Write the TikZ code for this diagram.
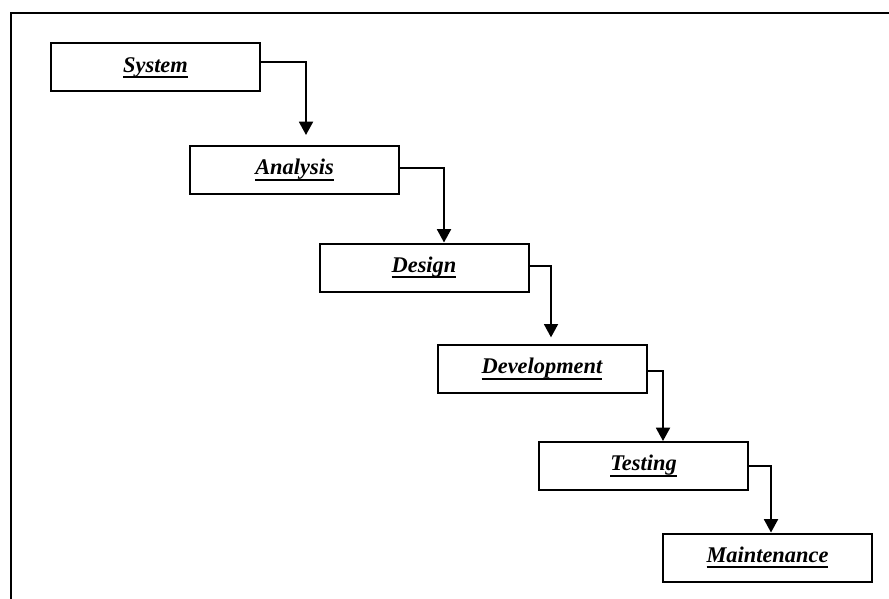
\documentclass[tikz,border=0pt]{standalone}
\usepackage{fontspec}
\setmainfont{Liberation Serif}
\usetikzlibrary{arrows.meta,calc}
\newcommand\myul[1]{\setbox0\hbox{#1}\rlap{\rule[-4.2pt]{\wd0}{1.5pt}}\box0}
\tikzset{
  stage/.style={draw, line width=1.5pt, minimum width=156.75pt, minimum height=36pt, inner sep=0pt,
    font=\fontsize{16.8}{20}\selectfont\bfseries\itshape},
  conn/.style={line width=1.4pt, -{Triangle[width=10.5pt,length=10pt]}},
}
\begin{document}
\begin{tikzpicture}[x=0.75pt,y=-0.75pt]
\useasboundingbox (0,0) rectangle (889,599);
\draw[line width=1.6pt] (11,605) -- (11,13) -- (895,13);
\node[stage] (System) at (155.5,67.5) {\myul{System}};
\node[stage] (Analysis) at (294.5,170) {\myul{Analysis}};
\node[stage] (Design) at (424,267.5) {\myul{Design}};
\node[stage] (Development) at (542,369) {\myul{Development}};
\node[stage] (Testing) at (643.5,466) {\myul{Testing}};
\node[stage] (Maintenance) at (767.5,557.5) {\myul{Maintenance}};
\draw[conn, shorten >=7.5pt] ($(System.east)+(0,-5.5)$) -| ($(Analysis.north)+(11.5,0)$);
\draw[conn] ($(Analysis.east)+(0,-2)$) -| ($(Design.north)+(20,0)$);
\draw[conn, shorten >=5pt] ($(Design.east)+(0,-1.5)$) -| ($(Development.north)+(9,0)$);
\draw[conn] ($(Development.east)+(0,2)$) -| ($(Testing.north)+(19.5,0)$);
\draw[conn] (Testing.east) -| ($(Maintenance.north)+(3.5,0)$);
\end{tikzpicture}
\end{document}
